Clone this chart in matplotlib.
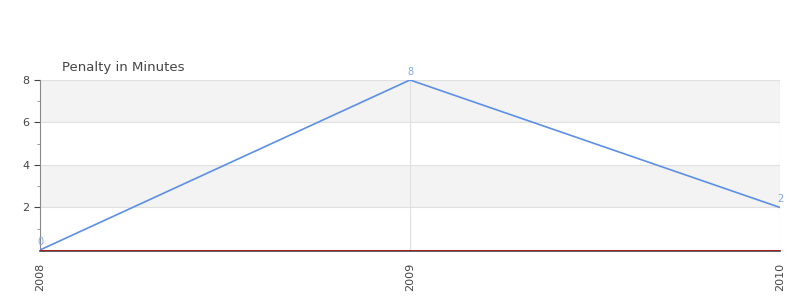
import matplotlib.pyplot as plt
import numpy as np

years = ["2008", "2009", "2010"]
penalty = [0, 8, 2]
y_ticks = [2, 4, 6, 8]

fig = plt.figure(figsize=(8, 3), dpi=100)
ax = fig.add_axes([0.05, 0.1667, 0.925, 0.5667])

# spine setup first, set_position resets the axis
for s in ["top", "right"]:
    ax.spines[s].set_visible(False)
ax.spines["left"].set_color("#888888")
ax.spines["bottom"].set_position(("outward", 1))
ax.spines["bottom"].set_color("#444444")
ax.spines["bottom"].set_linewidth(1.2)

x = np.arange(len(years))

# alternating bands
for lo in range(0, 8, 2):
    if (lo // 2) % 2 == 1:
        ax.axhspan(lo, lo + 2, color="#f3f3f3", zorder=0, lw=0)
for t in y_ticks:
    ax.axhline(t, color="#e0e0e0", lw=0.8, zorder=1)
for xi in x[1:]:
    ax.axvline(xi, color="#e0e0e0", lw=0.8, zorder=1)

ax.axhline(0, color="#cc0000", lw=0.5, zorder=3, clip_on=False)
ax.plot(x, penalty, color="#5b8fe8", lw=1.2, zorder=4)

for xi, v in zip(x, penalty):
    ax.annotate(str(v), (xi, v), xytext=(0, 2.5), textcoords="offset points",
                ha="center", va="bottom", fontsize=7, color="#7ea6e8")

ax.set_xlim(0, 2)
ax.set_ylim(0, 8)
ax.set_xticks(x)
ax.set_xticklabels(years, rotation=90, fontsize=8, color="#444444")
ax.set_yticks(y_ticks)
ax.set_yticks([1, 3, 5, 7], minor=True)
ax.tick_params(axis="y", labelsize=8, colors="#444444", length=4, width=0.8)
ax.tick_params(axis="y", which="minor", length=2, color="#888888")
ax.tick_params(axis="x", length=0, pad=8)

fig.text(0.0775, 0.765, "Penalty in Minutes", fontsize=9.5, color="#444444")

fig.savefig("out.png", dpi=100)
